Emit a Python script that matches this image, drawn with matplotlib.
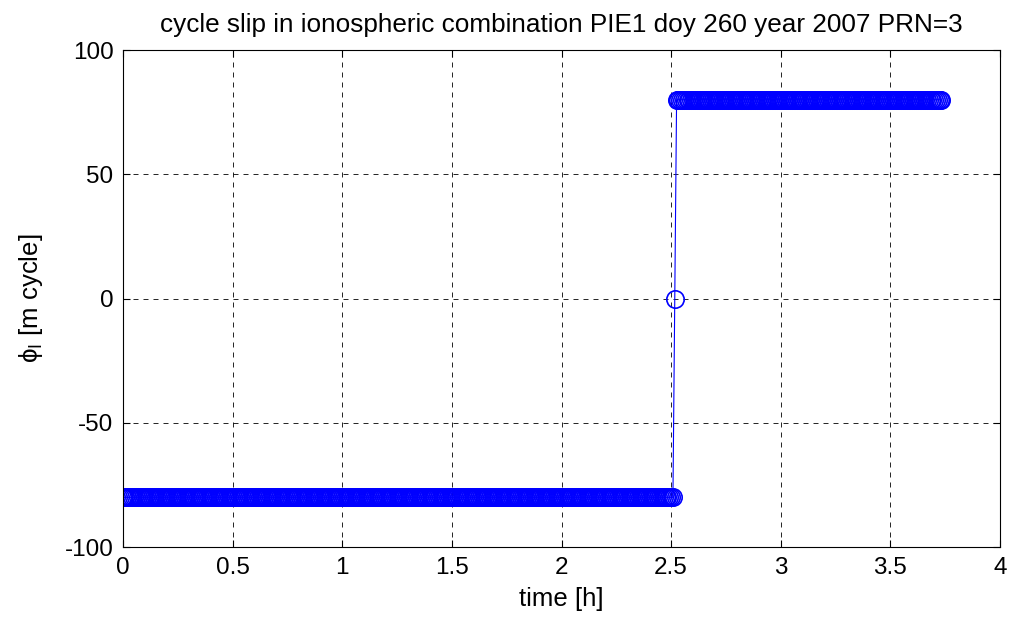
import numpy as np
import matplotlib
matplotlib.use("Agg")
import matplotlib.pyplot as plt

# epochs are 30 s apart (1/120 h)
epoch_step_h = 30.0 / 3600.0
n_before = 302      # epochs 0 .. 2.5083 h at -80
n_slip = 1          # single epoch at 0
n_after = 146       # epochs 2.525 .. 3.733 h at +80
level_before = -80.0
level_slip = 0.0
level_after = 80.0

time_h = np.arange(n_before + n_slip + n_after) * epoch_step_h
phi_I = np.concatenate([np.full(n_before, level_before),
                        np.full(n_slip, level_slip),
                        np.full(n_after, level_after)])

xticks = [0, 0.5, 1, 1.5, 2, 2.5, 3, 3.5, 4]
yticks = [-100, -50, 0, 50, 100]

plt.rcParams['font.family'] = ['Liberation Sans', 'DejaVu Sans']
plt.rcParams['axes.unicode_minus'] = False

fig = plt.figure(figsize=(10.09, 6.19), dpi=100)
ax = fig.add_axes([0.122, 0.1163, 0.869, 0.8029])

ax.plot(time_h, phi_I, color='blue', linewidth=0.8, marker='o',
        markersize=12.5, markerfacecolor='none', markeredgecolor='blue',
        markeredgewidth=1.2)

ax.set_xlim(0, 4)
ax.set_ylim(-100, 100)
ax.set_xticks(xticks)
ax.set_xticklabels([f'{t:g}' for t in xticks])
ax.set_yticks(yticks)
ax.grid(True, color='black', linestyle=(0, (6, 6)), linewidth=0.6)
ax.tick_params(direction='in', labelsize=17.5, length=5, top=True, right=True, pad=7)
for s in ax.spines.values():
    s.set_linewidth(0.8)

ax.set_xlabel('time [h]', fontsize=18.5, labelpad=6)
ax.set_ylabel(r'ϕ$_\mathregular{I}$ [m cycle]', fontsize=18.5, labelpad=14)
ax.set_title('cycle slip in ionospheric combination PIE1 doy 260 year 2007 PRN=3',
             fontsize=18.8, pad=13)

fig.savefig('out.png', dpi=100)
